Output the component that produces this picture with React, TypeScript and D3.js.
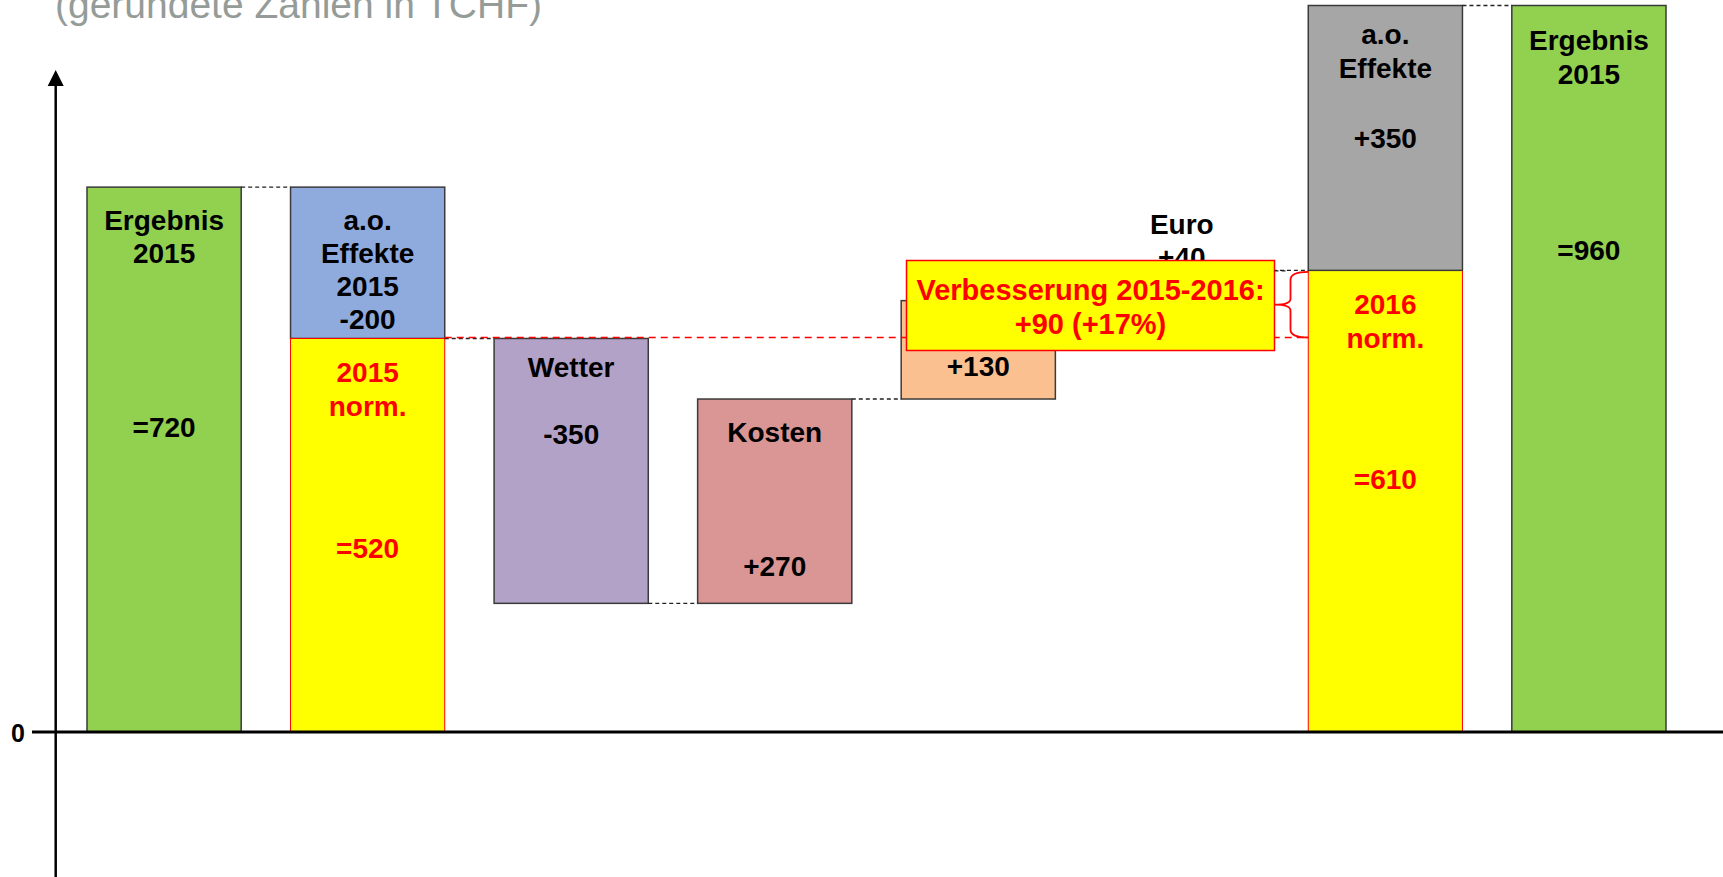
import React from "react";
import * as d3 from "d3";

// ---- data ----
const stepNames = ["Ergebnis 2015", "a.o. Effekte 2015", "Wetter", "Kosten", "Umsatz", "Euro", "2016 norm.", "Ergebnis 2015 (Ende)"];
const stepDeltas = [720, -200, -350, 270, 130, 40, 0, 350];
const stepKinds = ["total", "delta", "delta", "delta", "delta", "delta", "subtotal", "total"];
const normLabel2015 = ["2015", "norm.", "=520"];
const normValue2015 = 520;
const normLabel2016 = ["2016", "norm.", "=610"];
const aoLabel2016 = ["a.o.", "Effekte", "+350"];
const aoValue2016 = 350;
const improvementText = ["Verbesserung 2015-2016:", "+90 (+17%)"];
const titleText = "(gerundete Zahlen in TCHF)";
const yTicks = [0];

const W = 1723;
const H = 877;
const FONT = "'Liberation Sans', Arial, Helvetica, sans-serif";

export default function App() {
  const x = d3
    .scaleBand<number>()
    .domain(d3.range(8))
    .range([87, 1666])
    .paddingInner(0.2425)
    .paddingOuter(0);
  const y = d3.scaleLinear().domain([0, 960]).range([732, 5.5]);
  const bw = x.bandwidth();

  // waterfall computation
  let run = 0;
  const segs: { i: number; lo: number; hi: number; fill: string; stroke: string; sw: number }[] = [];
  const colors = ["#92d050", "#8faadc", "#b3a2c7", "#d99694", "#fac090", "#c6d9f1", "#ffff00", "#92d050"];
  const tops: number[] = [];
  const bottoms: number[] = [];
  stepDeltas.forEach((d, i) => {
    if (i === 0) {
      run = d;
      segs.push({ i, lo: 0, hi: d, fill: colors[i], stroke: "#3a3a3a", sw: 1.5 });
      tops.push(d); bottoms.push(0);
    } else if (i === 7) {
      // a.o. Effekte 2016 stacked on 2016 norm (index 6), and final total bar (index 7)
      const lo = run;
      run = run + d;
      segs.push({ i: 6, lo, hi: run, fill: "#a6a6a6", stroke: "#3a3a3a", sw: 1.5 });
      segs.push({ i: 7, lo: 0, hi: run, fill: colors[7], stroke: "#3a3a3a", sw: 1.5 });
      tops.push(run); bottoms.push(0);
    } else if (stepKinds[i] === "subtotal") {
      segs.push({ i, lo: 0, hi: run, fill: colors[i], stroke: "#ff0000", sw: 1 });
      tops.push(run); bottoms.push(0);
    } else {
      const lo = Math.min(run, run + d);
      const hi = Math.max(run, run + d);
      segs.push({ i, lo, hi, fill: colors[i], stroke: "#3a3a3a", sw: 1.5 });
      tops.push(hi); bottoms.push(lo);
      run = run + d;
      if (i === 1) {
        segs.push({ i, lo: 0, hi: normValue2015, fill: "#ffff00", stroke: "#ff0000", sw: 1 });
      }
    }
  });

  const L = (i: number) => x(i) as number;
  const R = (i: number) => (x(i) as number) + bw;
  const C = (i: number) => (x(i) as number) + bw / 2;

  // connectors: [fromBar, toBar, value]
  const connectors: [number, number, number][] = [
    [0, 1, 720],
    [1, 2, 520],
    [2, 3, 170],
    [3, 4, 440],
    [4, 5, 570],
    [5, 6, 610],
    [6, 7, 960],
  ];

  const txt = (s: string, cx: number, by: number, color = "#000", size = 28, key?: string) => (
    <text key={key ?? s + cx + by} x={cx} y={by} textAnchor="middle" fontFamily={FONT} fontWeight="bold" fontSize={size} fill={color}>
      {s}
    </text>
  );

  const lineStep = 33.8;
  const yNorm = y(normValue2015);
  const y610 = y(tops[6]);

  // box
  const boxL = 906.5, boxR = 1274.5, boxT = 260.5, boxB = 350.5;
  const braceX = 1290.5;
  const braceTop = y(tops[5]) + 1.5;
  const braceBot = yNorm - 1;
  const braceMid = (braceTop + braceBot) / 2;

  return (
    <svg width={W} height={H} style={{ position: "absolute", left: 0, top: 0, background: "#fff" }}>
      <text x={55} y={18} fontFamily={FONT} fontSize={39} fill="#959c98">{titleText}</text>

      {/* bars */}
      {segs.map((s, k) => (
        <rect key={k} x={L(s.i)} y={y(s.hi)} width={bw} height={y(s.lo) - y(s.hi)} fill={s.fill} stroke={s.stroke} strokeWidth={s.sw} />
      ))}

      {/* connectors */}
      {connectors.map(([a, b, v], k) => (
        <line key={k} x1={R(a)} x2={L(b)} y1={y(v)} y2={y(v)} stroke="#222" strokeWidth={1.3} strokeDasharray="4,3" />
      ))}

      {/* red dashed reference line at 2015 norm level */}
      <line x1={R(1)} x2={L(6)} y1={yNorm - 1} y2={yNorm - 1} stroke="#ff0000" strokeWidth={1.5} strokeDasharray="7,5" />

      {/* axes */}
      <line x1={55.7} x2={55.7} y1={84} y2={H} stroke="#000" strokeWidth={2.5} />
      <polygon points={`47.7,86 63.7,86 55.7,70`} fill="#000" />
      {yTicks.map((t) => (
        <g key={t}>
          <line x1={32} x2={W} y1={y(t)} y2={y(t)} stroke="#000" strokeWidth={3} />
          <text x={18} y={y(t) + 10} textAnchor="middle" fontFamily={FONT} fontWeight="bold" fontSize={25} fill="#000">{t}</text>
        </g>
      ))}

      {/* labels bar 1 */}
      {txt("Ergebnis", C(0), y(tops[0]) + 42.5)}
      {txt("2015", C(0), y(tops[0]) + 42.5 + lineStep)}
      {txt("=" + tops[0], C(0), y(tops[0]) + 249.5)}

      {/* bar 2 */}
      {["a.o.", "Effekte", "2015", String(stepDeltas[1])].map((s, k) => txt(s, C(1), y(tops[1]) + 43 + k * 33, "#000", 28, "b2" + k))}
      {txt(normLabel2015[0], C(1), yNorm + 44, "#ff0000")}
      {txt(normLabel2015[1], C(1), yNorm + 44 + lineStep, "#ff0000")}
      {txt(normLabel2015[2], C(1), yNorm + 220, "#ff0000")}

      {/* bar 3 */}
      {txt("Wetter", C(2), y(tops[2]) + 38.5)}
      {txt(String(stepDeltas[2]), C(2), y(tops[2]) + 105.5)}

      {/* bar 4 */}
      {txt("Kosten", C(3), y(tops[3]) + 43)}
      {txt("+" + stepDeltas[3], C(3), y(tops[3]) + 177)}

      {/* bar 5 */}
      {txt("+" + stepDeltas[4], C(4), y(tops[4]) + 75.5)}

      {/* Euro (above its bar) */}
      {txt("Euro", C(5), y(tops[5]) - 36.5)}
      {txt("+" + stepDeltas[5], C(5), y(tops[5]) - 3.5)}

      {/* bar 7 */}
      {txt(aoLabel2016[0], C(6), y(tops[7]) + 38)}
      {txt(aoLabel2016[1], C(6), y(tops[7]) + 72.5)}
      {txt("+" + aoValue2016, C(6), y(tops[7]) + 142.5)}
      {txt(normLabel2016[0], C(6), y610 + 43.5, "#ff0000")}
      {txt(normLabel2016[1], C(6), y610 + 43.5 + lineStep, "#ff0000")}
      {txt(normLabel2016[2], C(6), y610 + 219, "#ff0000")}

      {/* bar 8 */}
      {txt("Ergebnis", C(7), y(tops[7]) + 44.5)}
      {txt("2015", C(7), y(tops[7]) + 44.5 + lineStep)}
      {txt("=" + tops[7], C(7), y(tops[7]) + 254.5)}

      {/* improvement box */}
      <rect x={boxL} y={boxT} width={boxR - boxL} height={boxB - boxT} fill="#ffff00" stroke="#ff0000" strokeWidth={1.5} />
      {txt(improvementText[0], (boxL + boxR) / 2, 299.5, "#ff0000", 29)}
      {txt(improvementText[1], (boxL + boxR) / 2, 333.5, "#ff0000", 29)}

      {/* brace */}
      <path
        d={`M ${L(6)} ${braceTop} Q ${braceX} ${braceTop} ${braceX} ${braceTop + 8} L ${braceX} ${braceMid - 6} Q ${braceX} ${braceMid} ${boxR} ${braceMid} Q ${braceX} ${braceMid} ${braceX} ${braceMid + 6} L ${braceX} ${braceBot - 8} Q ${braceX} ${braceBot} ${L(6)} ${braceBot}`}
        fill="none"
        stroke="#ff0000"
        strokeWidth={1.8}
      />
      <line x1={boxR} x2={braceX - 2} y1={braceTop - 1} y2={braceTop - 1} stroke="#222" strokeWidth={1.3} strokeDasharray="4,3" />
    </svg>
  );
}
